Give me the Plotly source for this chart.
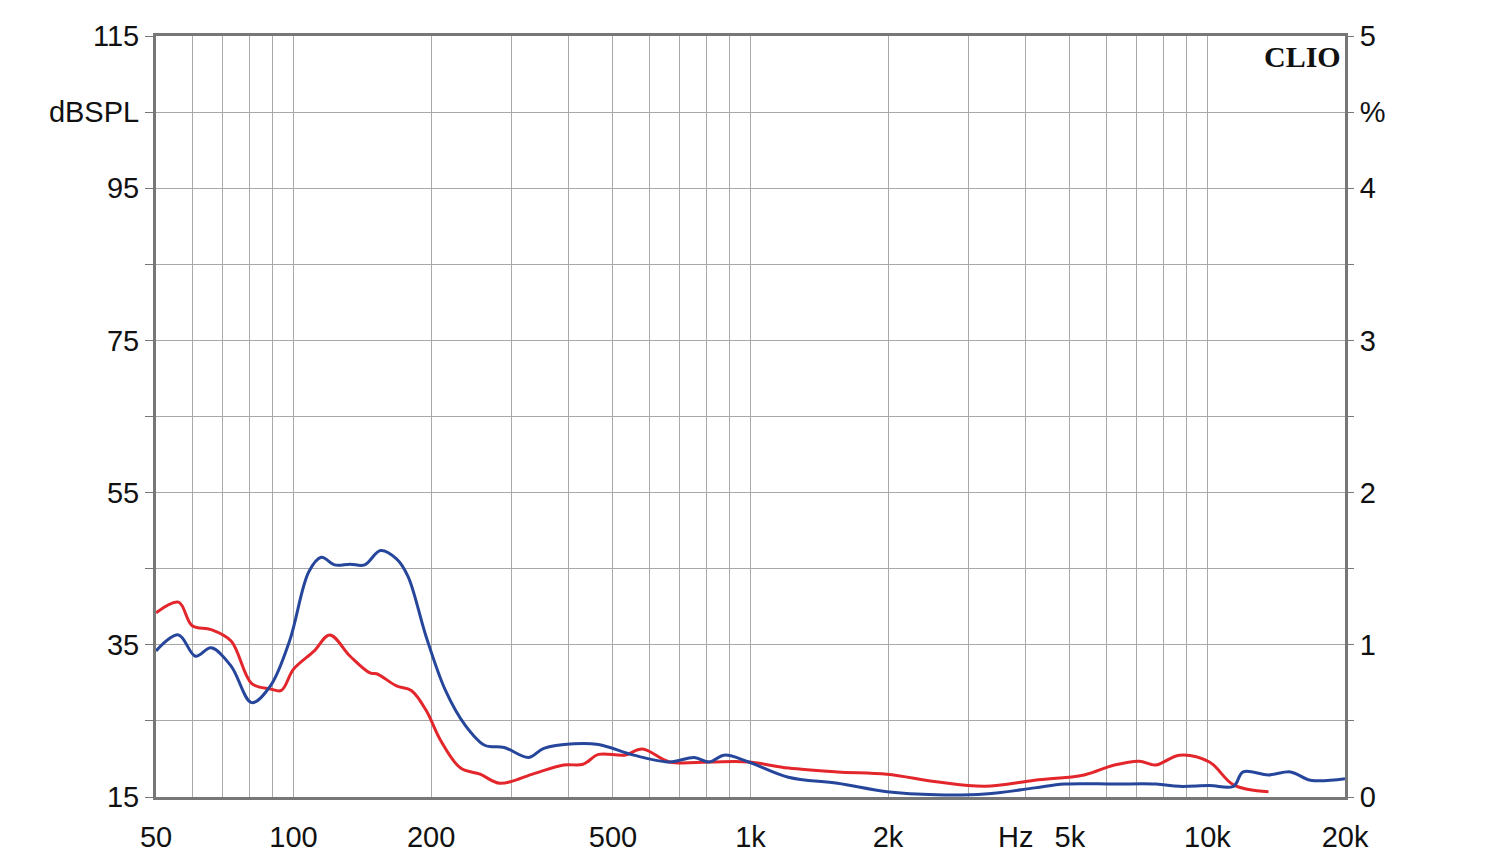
import plotly.graph_objects as go

# frequency response readings (Hz, dBSPL)
red_f = [50, 56, 60, 66, 73, 81, 89, 94, 100, 111, 120, 133, 147, 152, 168, 181, 195, 210, 232, 256, 283, 337, 390, 430, 465, 530, 580, 665, 812, 991, 1210, 1550, 1990, 2550, 3260, 4190, 5370, 6260, 7090, 7710, 8680, 10100, 11400, 13600]
red_db = [39.2, 40.6, 37.5, 37.0, 35.5, 29.9, 29.2, 29.0, 31.8, 34.2, 36.3, 33.5, 31.3, 31.2, 29.6, 29.0, 26.4, 22.4, 18.8, 18.0, 16.8, 18.1, 19.2, 19.3, 20.6, 20.5, 21.3, 19.6, 19.6, 19.6, 18.8, 18.3, 18.0, 17.0, 16.4, 17.2, 17.9, 19.2, 19.7, 19.2, 20.5, 19.6, 16.6, 15.7]

blue_f = [50, 56, 61, 66, 73, 81, 89, 98, 108, 115, 123, 133, 143, 155, 168, 178, 195, 215, 237, 262, 289, 327, 353, 410, 465, 555, 665, 753, 812, 876, 991, 1210, 1550, 1990, 2550, 3260, 4190, 4860, 6260, 7710, 8680, 10100, 11400, 11970, 13600, 15200, 16800, 20000]
blue_db = [34.2, 36.3, 33.5, 34.6, 32.2, 27.4, 29.6, 35.5, 44.6, 46.5, 45.5, 45.6, 45.5, 47.4, 46.3, 44.0, 36.1, 29.0, 24.5, 21.8, 21.5, 20.2, 21.4, 22.0, 21.9, 20.5, 19.6, 20.2, 19.6, 20.5, 19.6, 17.6, 16.8, 15.7, 15.3, 15.4, 16.2, 16.7, 16.7, 16.7, 16.4, 16.5, 16.4, 18.3, 17.9, 18.3, 17.2, 17.4]

grid_f = [m * 10 ** e for e in range(1, 5) for m in range(1, 10) if 50 <= m * 10 ** e <= 20000]
label_map = {50: "50", 100: "100", 200: "200", 500: "500", 1000: "1k", 2000: "2k", 5000: "5k", 10000: "10k", 20000: "20k"}
x_text = [label_map.get(f, "") for f in grid_f]

y_vals = list(range(15, 116, 10))
y_left = {115: "115", 105: "dBSPL", 95: "95", 75: "75", 55: "55", 35: "35", 15: "15"}
y_right = {115: "5", 105: "%", 95: "4", 75: "3", 55: "2", 35: "1", 15: "0"}

fig = go.Figure()
fig.add_trace(go.Scatter(x=red_f, y=red_db, mode="lines", line=dict(color="#e3262b", width=3), line_shape="spline"))
fig.add_trace(go.Scatter(x=blue_f, y=blue_db, mode="lines", line=dict(color="#26469c", width=3), line_shape="spline"))
fig.add_trace(go.Scatter(x=[50], y=[15], yaxis="y2", mode="markers", marker=dict(opacity=0), hoverinfo="skip"))

font = dict(family="Liberation Sans, Arial", size=29, color="#111")
fig.update_layout(
    width=1500, height=864, showlegend=False,
    paper_bgcolor="white", plot_bgcolor="white",
    margin=dict(l=148, r=163, t=20, b=75),
    font=font,
    xaxis=dict(type="log", range=[1.69897, 4.30103], tickvals=grid_f, ticktext=x_text,
               showgrid=True, gridcolor="#a8a8a8", gridwidth=1.2, ticks="", zeroline=False,
               ticklabelstandoff=12,
               showline=True, linecolor="#777", linewidth=3, mirror=True),
    yaxis=dict(range=[15, 115], tickvals=y_vals, ticktext=[y_left.get(v, "") for v in y_vals],
               showgrid=True, gridcolor="#a8a8a8", gridwidth=1.2, ticks="outside", ticklen=8,
               tickcolor="#777", zeroline=False, showline=True, linecolor="#777", linewidth=3, mirror=True),
    yaxis2=dict(range=[15, 115], overlaying="y", side="right", tickvals=y_vals,
                ticktext=[y_right.get(v, "") for v in y_vals], showgrid=False, ticks="outside",
                ticklen=8, tickcolor="#777", zeroline=False),
)
fig.add_annotation(x=3.58, y=-0.005, xref="x", yref="paper", yanchor="top", text="Hz",
                   showarrow=False, font=font, yshift=-18)
fig.add_annotation(x=1.0, y=1.0, xref="paper", yref="paper", xanchor="right", yanchor="top",
                   text="<b>CLIO</b>", showarrow=False, xshift=-2, yshift=-2,
                   font=dict(family="Liberation Serif, Times New Roman", size=30, color="#111"))
fig.write_html("out.html")
